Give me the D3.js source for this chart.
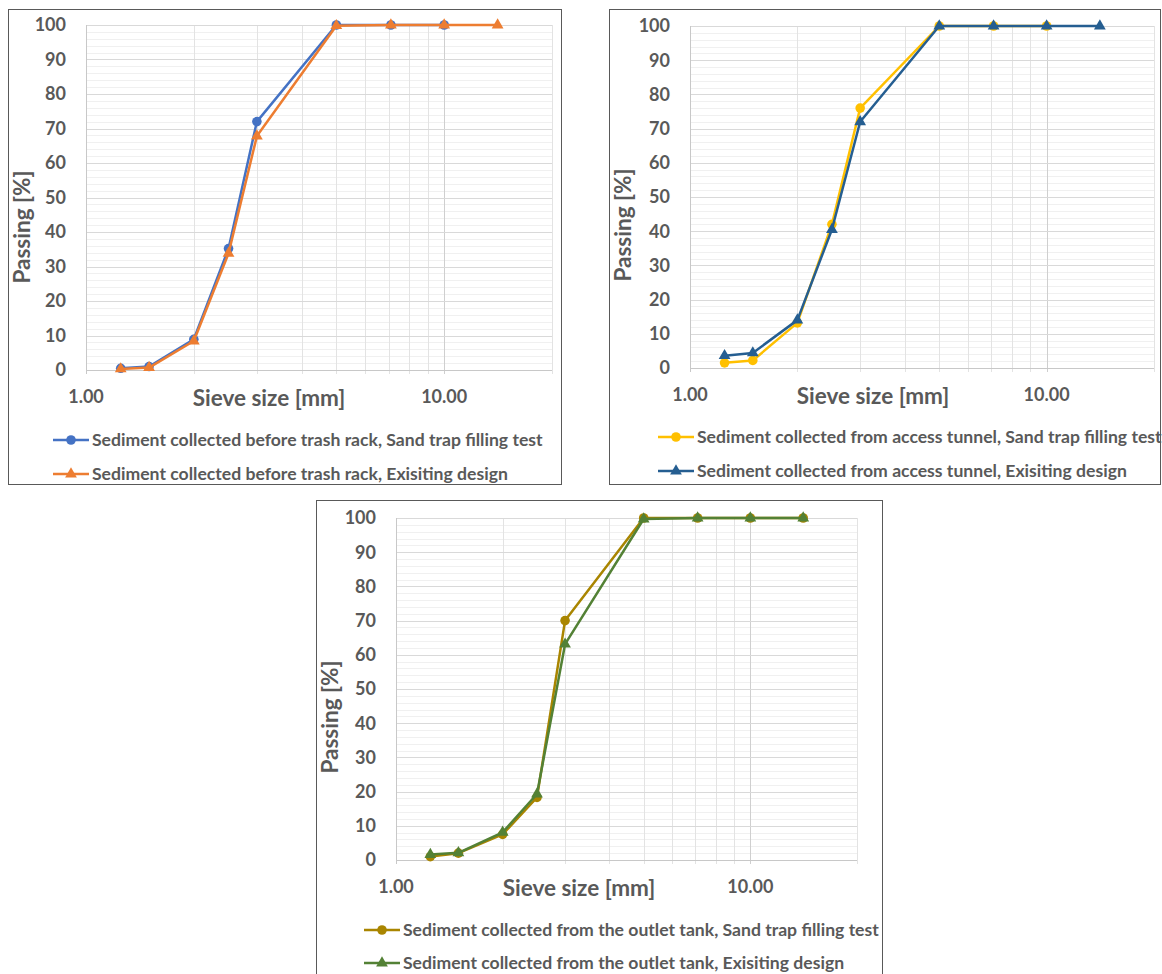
<!DOCTYPE html>
<html>
<head>
<meta charset="utf-8">
<script src="https://cdn.jsdelivr.net/npm/d3@7"></script>
<style>
  body { margin: 0; background: #fff; }
  svg { display: block; font-family: Lato, 'Open Sans', sans-serif; }
</style>
</head>
<body>
<div id="chart"></div>
<script>
// sieve sizes in mm (x positions, log axis)
const sieveSizes = [1.25, 1.5, 2, 2.5, 3, 5, 7.1, 10, 14.1]
const xTicks = [1, 10]
const xTickLabels = ['1.00', '10.00']
const yTicks = [0, 10, 20, 30, 40, 50, 60, 70, 80, 90, 100]

// passing [%]
const trashRackTest = [0.5, 1.0, 8.9, 35.2, 72.0, 100, 100, 100]
const trashRackDesign = [0.3, 0.7, 8.4, 33.8, 67.8, 99.8, 100, 100, 100]
const tunnelTest = [1.5, 2.2, 13.2, 42.0, 76.0, 100, 100, 100]
const tunnelDesign = [3.6, 4.4, 14.0, 40.5, 72.0, 100, 100, 100, 100]
const outletTest = [1.0, 2.0, 7.5, 18.3, 70.0, 100, 100, 100, 100]
const outletDesign = [1.6, 2.1, 8.1, 19.3, 63.1, 99.7, 100, 100, 100]

const seriesNames = [
  ['Sediment collected before trash rack, Sand trap filling test',
    'Sediment collected before trash rack, Exisiting design'],
  ['Sediment collected from access tunnel, Sand trap filling test',
    'Sediment collected from access tunnel, Exisiting design'],
  ['Sediment collected from the outlet tank, Sand trap filling test',
    'Sediment collected from the outlet tank, Exisiting design']
]

const width = 1162
const height = 974
const textColor = '#595959'

const panels = [
  {
    box: [8, 9, 553, 475],
    plot: { left: 86, right: 552, top: 25, bottom: 370 },
    legend: { x: 53, y: [440, 474] },
    series: [
      { name: seriesNames[0][0], values: trashRackTest, color: '#4472C4', marker: 'circle' },
      { name: seriesNames[0][1], values: trashRackDesign, color: '#ED7D31', marker: 'triangle' }
    ]
  },
  {
    box: [609, 9, 551, 475],
    plot: { left: 690, right: 1154, top: 26, bottom: 368 },
    legend: { x: 658, y: [437, 471] },
    series: [
      { name: seriesNames[1][0], values: tunnelTest, color: '#FFC000', marker: 'circle' },
      { name: seriesNames[1][1], values: tunnelDesign, color: '#255E91', marker: 'triangle' }
    ]
  },
  {
    box: [316, 500, 566, 490],
    plot: { left: 396, right: 857, top: 518, bottom: 860 },
    legend: { x: 364, y: [930, 963] },
    series: [
      { name: seriesNames[2][0], values: outletTest, color: '#A98500', marker: 'circle' },
      { name: seriesNames[2][1], values: outletDesign, color: '#538135', marker: 'triangle' }
    ]
  }
]

const svg = d3.select('#chart').append('svg')
  .attr('width', width)
  .attr('height', height)
  .attr('viewBox', [0, 0, width, height])

svg.append('rect')
  .attr('width', width)
  .attr('height', height)
  .attr('fill', '#fff')

const triangle = d3.symbol().type(d3.symbolTriangle).size(60)

const drawMarker = (g, marker, color, x, y) => {
  if (marker === 'circle') {
    g.append('circle')
      .attr('cx', x)
      .attr('cy', y)
      .attr('r', 4.8)
      .attr('fill', color)
  } else {
    g.append('path')
      .attr('d', triangle())
      .attr('transform', `translate(${x},${y})`)
      .attr('fill', color)
  }
}

const drawPanel = (p) => {
  const { left, right, top, bottom } = p.plot
  const g = svg.append('g')

  g.append('rect')
    .attr('x', p.box[0] + 0.5)
    .attr('y', p.box[1] + 0.5)
    .attr('width', p.box[2])
    .attr('height', p.box[3])
    .attr('fill', '#fff')
    .attr('stroke', '#595959')
    .attr('stroke-width', 1)

  const xScale = d3.scaleLog().domain([1, 20]).range([left, right])
  const yScale = d3.scaleLinear().domain([0, 100]).range([bottom, top])

  // minor horizontal grid every 2 %
  const minorY = d3.range(0, 101, 2).filter(v => v % 10 !== 0)
  g.append('g')
    .selectAll('line')
    .data(minorY)
    .join('line')
    .attr('x1', left)
    .attr('x2', right)
    .attr('y1', d => Math.round(yScale(d)) + 0.5)
    .attr('y2', d => Math.round(yScale(d)) + 0.5)
    .attr('stroke', '#f0f0f0')

  // vertical grid at 2..9 and 20
  const minorX = [2, 3, 4, 5, 6, 7, 8, 9, 20]
  g.append('g')
    .selectAll('line')
    .data(minorX)
    .join('line')
    .attr('x1', d => Math.round(xScale(d)) + 0.5)
    .attr('x2', d => Math.round(xScale(d)) + 0.5)
    .attr('y1', top)
    .attr('y2', bottom + 4)
    .attr('stroke', '#e3e3e3')

  g.append('line')
    .attr('x1', Math.round(xScale(10)) + 0.5)
    .attr('x2', Math.round(xScale(10)) + 0.5)
    .attr('y1', top)
    .attr('y2', bottom + 4)
    .attr('stroke', '#cfcfcf')

  // major horizontal grid
  g.append('g')
    .selectAll('line')
    .data(yTicks.filter(d => d > 0))
    .join('line')
    .attr('x1', left)
    .attr('x2', right)
    .attr('y1', d => Math.round(yScale(d)) + 0.5)
    .attr('y2', d => Math.round(yScale(d)) + 0.5)
    .attr('stroke', '#d9d9d9')

  // axis lines
  g.append('line')
    .attr('x1', left + 0.5)
    .attr('x2', left + 0.5)
    .attr('y1', top)
    .attr('y2', bottom + 4)
    .attr('stroke', '#c8c8c8')
  g.append('line')
    .attr('x1', left)
    .attr('x2', right)
    .attr('y1', Math.round(bottom) + 0.5)
    .attr('y2', Math.round(bottom) + 0.5)
    .attr('stroke', '#c8c8c8')

  // y tick labels
  g.append('g')
    .selectAll('text')
    .data(yTicks)
    .join('text')
    .attr('x', left - 20)
    .attr('y', d => yScale(d))
    .attr('dy', '0.35em')
    .attr('text-anchor', 'end')
    .attr('fill', textColor)
    .attr('font-size', 18)
    .attr('font-weight', 'bold')
    .text(d => d)

  // x tick labels
  g.append('g')
    .selectAll('text')
    .data(xTicks)
    .join('text')
    .attr('x', d => xScale(d))
    .attr('y', bottom + 27)
    .attr('dy', '0.35em')
    .attr('text-anchor', 'middle')
    .attr('fill', textColor)
    .attr('font-size', 18)
    .attr('font-weight', 'bold')
    .text((d, i) => xTickLabels[i])

  // axis titles
  g.append('text')
    .attr('x', left + 183)
    .attr('y', bottom + 28)
    .attr('dy', '0.35em')
    .attr('text-anchor', 'middle')
    .attr('fill', textColor)
    .attr('font-size', 22.5)
    .attr('font-weight', 'bold')
    .text('Sieve size [mm]')

  g.append('text')
    .attr('transform', `translate(${p.box[0] + 14},${bottom - 143}) rotate(-90)`)
    .attr('dy', '0.35em')
    .attr('text-anchor', 'middle')
    .attr('fill', textColor)
    .attr('font-size', 22.5)
    .attr('font-weight', 'bold')
    .text('Passing [%]')

  // series
  const line = d3.line()
    .x((d, i) => xScale(sieveSizes[i]))
    .y(d => yScale(d))

  p.series.forEach(s => {
    g.append('path')
      .attr('d', line(s.values))
      .attr('fill', 'none')
      .attr('stroke', s.color)
      .attr('stroke-width', 2.5)
      .attr('stroke-linejoin', 'round')
    const mg = g.append('g')
    s.values.forEach((v, i) => drawMarker(mg, s.marker, s.color, xScale(sieveSizes[i]), yScale(v)))
  })

  // legend
  p.series.forEach((s, i) => {
    const ly = p.legend.y[i]
    const lg = g.append('g')
    lg.append('line')
      .attr('x1', p.legend.x)
      .attr('x2', p.legend.x + 36)
      .attr('y1', ly)
      .attr('y2', ly)
      .attr('stroke', s.color)
      .attr('stroke-width', 2.5)
    drawMarker(lg, s.marker, s.color, p.legend.x + 18, ly)
    lg.append('text')
      .attr('x', p.legend.x + 39)
      .attr('y', ly)
      .attr('dy', '0.35em')
      .attr('fill', textColor)
      .attr('font-size', 17.6)
      .attr('font-weight', 'bold')
      .text(s.name)
  })
}

panels.forEach(drawPanel)
</script>
</body>
</html>
